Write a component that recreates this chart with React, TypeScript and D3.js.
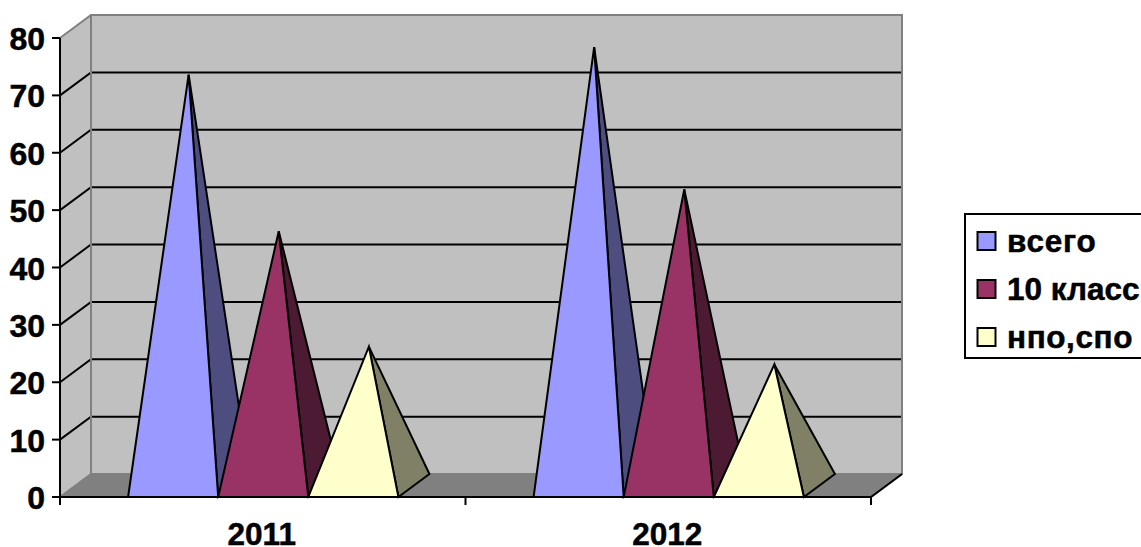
import React from "react";
import * as d3 from "d3";

const categories = ["2011", "2012"];
const seriesNames = ["всего", "10 класс", "нпо,спо"];
const vsego = [71.6, 76.4];
const klass10 = [44.3, 51.6];
const npoSpo = [24.2, 21.1];
const seriesValues = [vsego, klass10, npoSpo];
const frontColors = ["#9999FF", "#993366", "#FFFFCC"];
const sideColors = ["#4D4D80", "#4D1A33", "#808066"];
const yTicks = [0, 10, 20, 30, 40, 50, 60, 70, 80];
const legendSpacing = [0.8, 0, 0.6];

const DX = 31;
const DY = -23;
const FONT = "'Liberation Sans', Arial, sans-serif";

export default function App() {
  const y = d3.scaleLinear().domain([0, 80]).range([497, 38]);
  const x0 = d3.scaleBand<string>().domain(categories).range([60, 871]);
  const x1 = d3
    .scaleBand<string>()
    .domain(seriesNames)
    .range([0.5, x0.bandwidth() + 0.5])
    .paddingInner(0)
    .paddingOuter(0.75);
  const line = d3.line();
  const y0 = y(0);
  const left = x0.range()[0];
  const right = x0.range()[1];
  const yTop = y(80);
  const tickXs = [left, ...categories.map((c) => (x0(c) as number) + x0.bandwidth())];

  return (
    <svg
      width={1141}
      height={547}
      style={{ position: "absolute", left: 0, top: 0, background: "#fff" }}
    >
      {/* side wall */}
      <path
        d={line([[left, y0], [left, yTop], [left + DX, yTop + DY], [left + DX, y0 + DY]])! + "Z"}
        fill="#C0C0C0"
      />
      {/* back wall */}
      <rect x={left + DX} y={yTop + DY} width={right - left} height={y0 - yTop} fill="#C0C0C0" />
      {/* floor */}
      <path
        d={line([[left, y0], [left + DX, y0 + DY], [right + DX, y0 + DY], [right, y0]])! + "Z"}
        fill="#808080"
      />
      {/* gridlines */}
      {yTicks.slice(1, -1).concat([0]).map((t) => (
        <path
          key={t}
          d={line([[left, y(t)], [left + DX, y(t) + DY], [right + DX, y(t) + DY]])!}
          fill="none"
          stroke={t === 0 ? "#808080" : "#000"}
          strokeWidth={2}
        />
      ))}
      <path
        d={line([[left, yTop], [left + DX, yTop + DY], [right + DX, yTop + DY], [right + DX, y0 + DY], [right, y0]])!}
        fill="none"
        stroke="#808080"
        strokeWidth={2}
      />
      <path d={line([[right + DX, y0 + DY], [right, y0]])!} fill="none" stroke="#000" strokeWidth={2} />
      <path d={line([[left + DX, yTop + DY], [left + DX, y0 + DY]])!} fill="none" stroke="#808080" strokeWidth={2} />

      {/* pyramids */}
      {categories.map((c, ci) =>
        seriesNames.map((s, si) => {
          const a = (x0(c) as number) + (x1(s) as number);
          const b = a + x1.bandwidth();
          const apex: [number, number] = [(a + b) / 2 + DX / 2, y(seriesValues[si][ci]) + DY / 2];
          return (
            <g key={c + s} stroke="#000" strokeWidth={2} strokeLinejoin="miter">
              <path d={line([[b, y0], [b + DX, y0 + DY], apex])! + "Z"} fill={sideColors[si]} />
              <path d={line([[a, y0], [b, y0], apex])! + "Z"} fill={frontColors[si]} />
            </g>
          );
        })
      )}

      {/* axes */}
      <path d={line([[left, yTop], [left, y0 + 8]])!} stroke="#000" strokeWidth={2} fill="none" />
      <path d={line([[left, y0], [right, y0]])!} stroke="#000" strokeWidth={2} fill="none" />
      {yTicks.map((t) => (
        <g key={t}>
          <path d={line([[left - 8, y(t)], [left, y(t)]])!} stroke="#000" strokeWidth={2} />
          <text
            x={45}
            y={y(t) + 12}
            textAnchor="end"
            fontFamily={FONT}
            fontWeight="bold"
            fontSize={32}
            fill="#000"
            stroke="#000"
            strokeWidth={0.5}
          >
            {t}
          </text>
        </g>
      ))}
      {tickXs.map((tx) => (
        <path key={tx} d={line([[tx, y0], [tx, y0 + 8]])!} stroke="#000" strokeWidth={2} />
      ))}
      {categories.map((c) => (
        <text
          key={c}
          x={(x0(c) as number) + x0.bandwidth() / 2 - 1}
          y={545}
          textAnchor="middle"
          fontFamily={FONT}
          fontWeight="bold"
          fontSize={31.5}
          fill="#000"
          stroke="#000"
          strokeWidth={0.5}
        >
          {c}
        </text>
      ))}

      {/* legend */}
      <rect x={965} y={214} width={200} height={144} fill="#fff" stroke="#000" strokeWidth={2} />
      {seriesNames.map((s, i) => (
        <g key={s}>
          <rect
            x={977.5}
            y={232 + i * 48}
            width={18}
            height={18}
            fill={frontColors[i]}
            stroke="#000"
            strokeWidth={2}
          />
          <text
            x={1007}
            y={252 + i * 48}
            fontFamily={FONT}
            fontWeight="bold"
            fontSize={31.5}
            letterSpacing={legendSpacing[i]}
            fill="#000"
            stroke="#000"
            strokeWidth={0.5}
          >
            {s}
          </text>
        </g>
      ))}
    </svg>
  );
}
